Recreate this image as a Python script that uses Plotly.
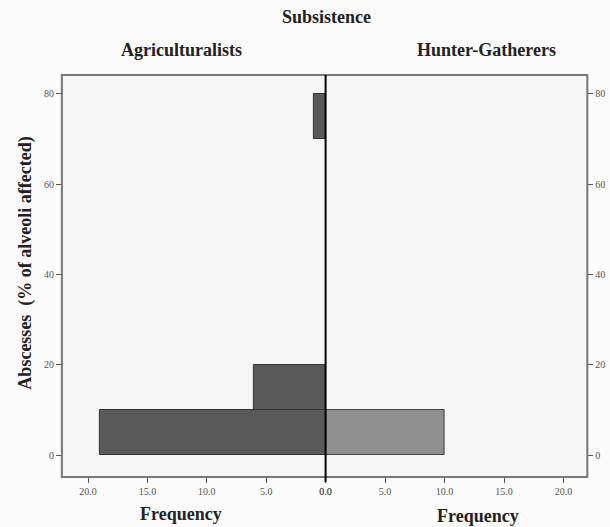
import plotly.graph_objects as go

# Data: histogram bins of abscess % (bin centers, width 10) and frequencies
agri_bins = [5, 15, 75]
agri_freq = [19, 6, 1]
hg_bins = [5]
hg_freq = [10]
bin_width = 10
x_ticks = [0, 5, 10, 15, 20]
x_tick_labels = ["0.0", "5.0", "10.0", "15.0", "20.0"]
y_ticks = [0, 20, 40, 60, 80]

W, H = 610, 527
def px(x): return x / W
def py(y): return 1 - y / H

L, R, C, T, B = 57, 593, 326, 75, 477

fig = go.Figure()
fig.add_trace(go.Bar(y=agri_bins, x=agri_freq, orientation="h", width=bin_width,
                     marker=dict(color="#595959", line=dict(color="#333333", width=1)),
                     xaxis="x", yaxis="y", showlegend=False))
fig.add_trace(go.Bar(y=hg_bins, x=hg_freq, orientation="h", width=bin_width,
                     marker=dict(color="#8f8f8f", line=dict(color="#444444", width=1)),
                     xaxis="x2", yaxis="y2", showlegend=False))

tickfont = dict(family="Liberation Serif", size=10, color="#555555")
axis_common = dict(tickvals=x_ticks, ticktext=x_tick_labels, ticks="outside", ticklen=5,
                   tickcolor="#555555", tickfont=tickfont, showgrid=False, zeroline=False,
                   showline=False)
yaxis_common = dict(domain=[py(B), py(T)], range=[-4.8, 84.2], tickvals=y_ticks, ticks="outside",
                    ticklen=5, tickcolor="#555555", tickfont=tickfont, showgrid=False,
                    zeroline=False, showline=False)
fig.update_layout(
    width=W, height=H, margin=dict(l=0, r=0, t=0, b=0),
    paper_bgcolor="#fbfbfb", plot_bgcolor="#f6f6f6",
    bargap=0,
    xaxis=dict(domain=[px(L), px(C)], range=[22.2, 0], anchor="y", **axis_common),
    xaxis2=dict(domain=[px(C), px(R)], range=[0, 22.0], anchor="y2", **axis_common),
    yaxis=dict(anchor="x", **yaxis_common),
    yaxis2=dict(anchor="x2", side="right", **yaxis_common),
)

# frame
fig.add_shape(type="rect", xref="paper", yref="paper", x0=px(L), x1=px(R), y0=py(B), y1=py(T),
              line=dict(color="#777777", width=2), layer="above")
# center line
fig.add_shape(type="line", xref="paper", yref="paper", x0=px(C), x1=px(C), y0=py(482), y1=py(T),
              line=dict(color="#000000", width=2), layer="above")

bold = dict(family="Liberation Serif", color="#222222")
ann = [
    ("<b>Subsistence</b>", 327, 17, 18),
    ("<b>Agriculturalists</b>", 179, 50, 18),
    ("<b>Hunter-Gatherers</b>", 490, 50, 18),
    ("<b>Frequency</b>", 179, 514, 18),
    ("<b>Frequency</b>", 481, 516, 18),
]
for text, x, y, s in ann:
    fig.add_annotation(text=text, xref="paper", yref="paper", x=px(x), y=py(y),
                       showarrow=False, font=dict(size=s, **bold), xanchor="center", yanchor="middle")
fig.add_annotation(text="<b>Abscesses  (% of alveoli affected)</b>", xref="paper", yref="paper",
                   x=px(19), y=py(263), showarrow=False, textangle=-90,
                   font=dict(size=18, **bold), xanchor="center", yanchor="middle")

fig.write_html("out.html")
